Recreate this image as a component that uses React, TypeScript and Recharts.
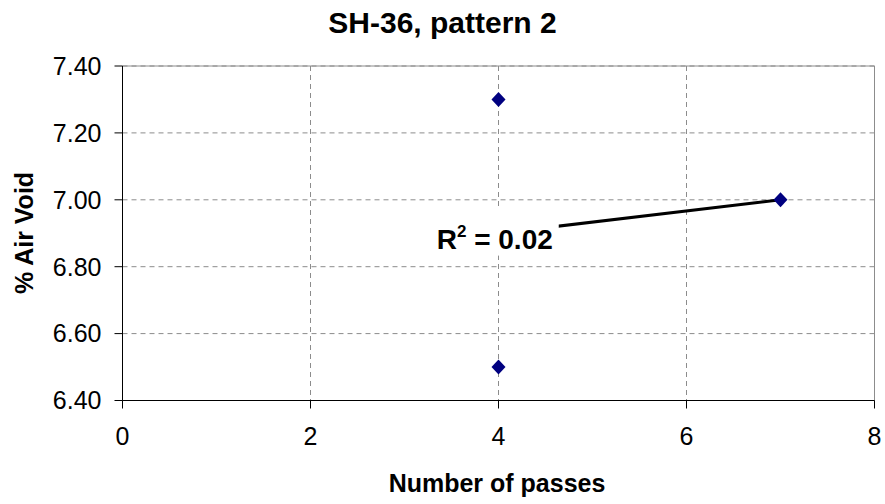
import React from 'react';
import {
  ScatterChart, Scatter, XAxis, YAxis, CartesianGrid, ReferenceLine, ReferenceArea, ReferenceDot
} from 'recharts';

const passes = [4, 4, 7];
const airVoid = [7.3, 6.5, 7.0];
const xTicks = [0, 2, 4, 6, 8];
const yTicks = [6.4, 6.6, 6.8, 7.0, 7.2, 7.4];
const r2Label = '0.02';
// where the R² text sits, in data units
const labelAt = { x: 3.96, y: 6.881 };

const points = passes.map((x, i) => ({ x, y: airVoid[i] }));

// least squares trendline over the data range
const n = passes.length;
const mx = passes.reduce((a, b) => a + b, 0) / n;
const my = airVoid.reduce((a, b) => a + b, 0) / n;
let sxy = 0;
let sxx = 0;
passes.forEach((x, i) => {
  sxy += (x - mx) * (airVoid[i] - my);
  sxx += (x - mx) * (x - mx);
});
const slope = sxy / sxx;
const intercept = my - slope * mx;
const xMin = Math.min(...passes);
const xMax = Math.max(...passes);
const trend = [
  { x: xMin, y: intercept + slope * xMin },
  { x: xMax, y: intercept + slope * xMax },
];

const FONT = '"Liberation Sans", Arial, sans-serif';

const Diamond = (props: any) => {
  const { cx, cy } = props;
  if (cx == null || cy == null) return null;
  return (
    <path
      d={`M${cx},${cy - 7.5}L${cx + 7},${cy}L${cx},${cy + 7.5}L${cx - 7},${cy}Z`}
      fill="#000080"
    />
  );
};

const R2Box = (props: any) => {
  const { cx, cy } = props;
  if (cx == null || cy == null) return null;
  return (
    <g>
      <rect x={cx - 64} y={cy - 30} width={128} height={46} fill="#fff" />
      <text
        x={cx}
        y={cy + 9}
        textAnchor="middle"
        fontFamily={FONT}
        fontWeight="bold"
        fontSize={28}
        fill="#000"
      >
        <tspan>R</tspan>
        <tspan dy={-12} fontSize={17}>2</tspan>
        <tspan dy={12}>{` = ${r2Label}`}</tspan>
      </text>
    </g>
  );
};

const App: React.FC = () => {
  return (
    <div style={{ position: 'absolute', left: 0, top: 0, width: 885, height: 504, background: '#fff', fontFamily: FONT }}>
      <div style={{ position: 'absolute', left: 0, width: 885, top: 8, lineHeight: 1, textAlign: 'center', fontSize: 30, fontWeight: 'bold' }}>
        SH-36, pattern 2
      </div>
      <div style={{ position: 'absolute', left: 0, width: 994, top: 471, lineHeight: 1, textAlign: 'center', fontSize: 25, fontWeight: 'bold' }}>
        Number of passes
      </div>
      <div
        style={{
          position: 'absolute', left: 24, top: 233, fontSize: 25, fontWeight: 'bold', lineHeight: 1,
          transform: 'translate(-50%, -50%) rotate(-90deg)', whiteSpace: 'nowrap'
        }}
      >
        % Air Void
      </div>
      <ScatterChart
        width={885}
        height={504}
        margin={{ top: 66, right: 10.5, bottom: 73.5, left: 0 }}
      >
        <CartesianGrid strokeDasharray="5 4" stroke="#8c8c8c" />
        <ReferenceArea x1={0} x2={8} y1={6.4} y2={7.4} fill="none" stroke="#8c8c8c" strokeWidth={1} />
        <XAxis
          dataKey="x"
          type="number"
          domain={[0, 8]}
          ticks={xTicks}
          height={30}
          stroke="#000"
          tickSize={8}
          tickMargin={19}
          tick={{ fill: '#000', fontSize: 25, fontFamily: FONT }}
        />
        <YAxis
          dataKey="y"
          type="number"
          domain={[6.4, 7.4]}
          ticks={yTicks}
          width={122.5}
          stroke="#000"
          tickSize={8}
          tickMargin={13}
          tickFormatter={(v: number) => v.toFixed(2)}
          tick={{ fill: '#000', fontSize: 25, fontFamily: FONT }}
        />
        <ReferenceLine segment={trend} stroke="#000" strokeWidth={3} />
        <Scatter data={points} shape={<Diamond />} isAnimationActive={false} />
        <ReferenceDot x={labelAt.x} y={labelAt.y} shape={<R2Box />} />
      </ScatterChart>
    </div>
  );
};

export default App;
